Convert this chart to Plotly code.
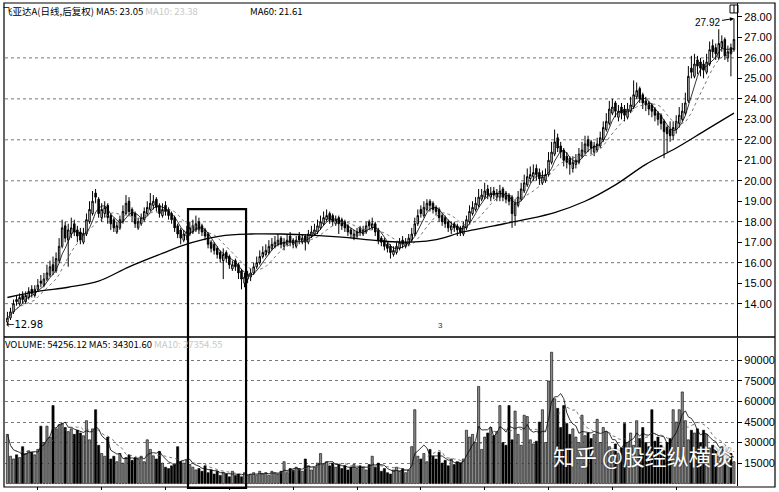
import plotly.graph_objects as go
import pandas as pd

# ---------------- data ----------------
close = [
13.3, 13.6, 14.0, 14.1, 14.3, 14.2, 14.4, 14.6, 14.5, 14.7,
14.9, 15.0, 15.2, 15.5, 15.8, 15.6, 16.2, 16.8, 17.7, 17.2,
17.6, 17.7, 17.5, 17.3, 17.1, 17.4, 18.1, 18.6, 19.0, 19.2,
18.4, 18.6, 18.7, 18.2, 17.9, 17.7, 17.8, 18.1, 18.5, 18.9,
18.5, 18.3, 17.9, 18.0, 18.2, 18.5, 18.7, 18.9, 19.0, 18.7,
18.4, 18.6, 18.5, 18.3, 18.1, 17.7, 17.4, 17.2, 17.4, 17.5,
17.7, 17.8, 17.9, 17.6, 17.5, 17.3, 16.9, 16.7, 16.6, 16.4,
16.2, 16.4, 16.2, 15.9, 15.9, 15.8, 15.5, 15.2, 15.3, 15.4,
15.5, 15.8, 16.0, 16.3, 16.5, 16.6, 16.8, 16.9, 17.0, 17.1,
16.9, 17.0, 17.1, 17.0, 16.9, 17.1, 17.1, 17.2, 17.0, 17.4,
17.5, 17.6, 17.8, 18.0, 18.2, 18.3, 18.1, 18.0, 18.1, 17.9,
17.8, 17.7, 17.5, 17.4, 17.4, 17.5, 17.5, 17.6, 17.8, 17.8,
17.9, 17.5, 17.1, 17.0, 16.8, 16.7, 16.5, 16.6, 16.8, 17.0,
16.9, 17.0, 17.2, 17.4, 17.9, 18.3, 18.4, 18.7, 18.9, 18.8,
18.6, 18.5, 18.2, 18.0, 17.9, 17.7, 17.8, 17.7, 17.6, 17.5,
17.8, 18.1, 18.5, 18.7, 18.9, 19.2, 19.3, 19.5, 19.3, 19.4,
19.3, 19.4, 19.5, 19.2, 19.1, 19.0, 18.4, 18.9, 19.2, 19.6,
19.9, 20.2, 20.3, 20.4, 20.3, 20.1, 20.2, 20.3, 21.0, 21.4,
21.9, 21.6, 21.4, 21.0, 20.9, 20.8, 20.9, 21.0, 21.3, 21.5,
21.8, 21.7, 21.6, 21.7, 21.8, 22.1, 22.6, 22.9, 23.5, 23.6,
23.4, 23.4, 23.3, 23.2, 23.5, 23.7, 24.2, 24.4, 24.0, 23.8,
23.7, 23.5, 23.4, 23.2, 23.0, 22.8, 22.4, 22.3, 22.2, 22.6,
22.9, 23.2, 23.4, 23.8, 25.1, 25.3, 25.7, 25.6, 25.5, 25.4,
25.8, 26.4, 26.3, 26.2, 26.7, 26.8, 26.1, 26.3, 26.2, 26.9]

open_ = [
13.1, 13.3, 13.6, 14.2, 14.0, 14.4, 14.1, 14.3, 14.7, 14.4,
14.7, 15.1, 14.9, 15.2, 15.4, 15.9, 15.6, 16.1, 16.8, 17.8,
17.1, 17.4, 17.9, 17.6, 17.5, 17.0, 17.4, 18.0, 18.4, 19.4,
19.1, 18.2, 18.4, 18.8, 18.3, 18.1, 17.5, 17.7, 18.0, 18.4,
19.0, 18.6, 18.4, 17.7, 17.9, 18.1, 18.4, 18.6, 18.8, 19.1,
18.8, 18.3, 18.8, 18.6, 18.4, 18.2, 17.8, 17.6, 17.1, 17.3,
17.4, 17.5, 17.6, 18.0, 17.8, 17.6, 17.4, 17.0, 16.9, 16.7,
16.5, 16.1, 16.5, 16.3, 15.7, 16.1, 15.9, 15.6, 15.0, 15.2,
15.3, 15.5, 15.8, 16.0, 16.3, 16.4, 16.5, 16.7, 16.8, 16.9,
17.2, 16.8, 16.9, 17.3, 17.1, 16.8, 17.3, 17.0, 17.3, 17.0,
17.3, 17.4, 17.5, 17.7, 17.9, 18.1, 18.4, 18.3, 17.9, 18.2,
18.1, 18.0, 17.8, 17.6, 17.2, 17.3, 17.7, 17.4, 17.5, 18.0,
17.7, 17.9, 17.6, 17.2, 17.1, 16.9, 16.8, 16.4, 16.5, 16.7,
17.1, 16.8, 16.9, 17.1, 17.4, 17.9, 18.6, 18.3, 18.6, 19.0,
18.9, 18.7, 18.6, 18.3, 18.2, 18.0, 17.6, 17.9, 17.8, 17.7,
17.4, 17.7, 18.0, 18.4, 18.6, 18.8, 19.1, 19.2, 19.6, 19.2,
19.5, 19.2, 19.2, 19.6, 19.4, 19.3, 19.2, 18.3, 18.8, 19.1,
19.5, 19.8, 20.1, 20.2, 20.6, 20.4, 19.9, 20.0, 20.3, 20.9,
21.3, 22.1, 21.7, 21.5, 21.2, 21.1, 20.6, 20.8, 20.9, 21.2,
21.4, 22.0, 21.9, 21.4, 21.5, 21.7, 22.0, 22.5, 22.8, 23.3,
23.8, 23.1, 23.6, 23.5, 23.1, 23.4, 23.6, 24.1, 24.5, 24.2,
23.9, 23.8, 23.7, 23.5, 23.3, 23.2, 22.9, 22.6, 22.5, 22.2,
22.5, 22.8, 23.0, 23.3, 23.9, 25.5, 25.1, 25.9, 25.8, 25.7,
25.3, 25.7, 26.6, 26.5, 26.0, 26.5, 26.9, 26.0, 26.5, 26.4]

high = [
13.6, 13.8, 14.2, 14.4, 14.5, 14.6, 14.6, 14.8, 14.9, 14.9,
15.2, 15.4, 15.5, 15.9, 16.1, 16.3, 16.5, 17.2, 18.1, 18.0,
17.9, 18.2, 18.1, 17.8, 17.7, 17.7, 18.4, 19.0, 19.5, 19.6,
19.2, 18.9, 19.0, 18.9, 18.4, 18.2, 18.0, 18.3, 18.8, 19.3,
19.2, 18.7, 18.5, 18.2, 18.4, 18.7, 19.0, 19.4, 19.3, 19.2,
18.9, 18.9, 19.0, 18.7, 18.5, 18.3, 17.9, 17.7, 17.6, 17.8,
18.0, 18.1, 18.3, 18.2, 17.9, 17.7, 17.5, 17.1, 17.0, 16.8,
16.6, 16.7, 16.6, 16.4, 16.1, 16.2, 16.0, 15.7, 15.5, 15.6,
15.7, 16.0, 16.3, 16.6, 16.8, 16.9, 17.1, 17.2, 17.3, 17.4,
17.3, 17.2, 17.4, 17.5, 17.2, 17.3, 17.5, 17.4, 17.4, 17.6,
17.8, 17.9, 18.1, 18.3, 18.5, 18.6, 18.5, 18.4, 18.3, 18.3,
18.2, 18.1, 17.9, 17.7, 17.6, 17.7, 17.8, 17.8, 18.0, 18.1,
18.2, 18.0, 17.7, 17.3, 17.2, 17.0, 16.9, 16.8, 17.0, 17.2,
17.3, 17.2, 17.4, 17.7, 18.2, 18.6, 18.8, 19.0, 19.1, 19.1,
19.0, 18.8, 18.7, 18.4, 18.3, 18.1, 18.0, 18.0, 17.9, 17.8,
18.0, 18.3, 18.8, 19.0, 19.2, 19.6, 19.6, 19.9, 19.8, 19.7,
19.7, 19.6, 19.8, 19.7, 19.5, 19.4, 19.3, 19.1, 19.5, 19.9,
20.3, 20.6, 20.7, 20.8, 20.8, 20.6, 20.5, 20.6, 21.4, 21.9,
22.5, 22.3, 21.9, 21.6, 21.4, 21.2, 21.2, 21.3, 21.6, 21.9,
22.2, 22.2, 22.0, 21.9, 22.1, 22.4, 22.9, 23.3, 23.9, 24.0,
23.9, 23.7, 23.8, 23.7, 23.8, 24.1, 24.9, 24.8, 24.6, 24.3,
24.1, 23.9, 23.8, 23.6, 23.4, 23.3, 23.0, 22.7, 22.9, 22.9,
23.2, 23.6, 23.8, 24.3, 25.6, 26.1, 26.2, 26.1, 26.0, 25.9,
26.2, 26.8, 26.9, 26.7, 27.4, 27.1, 27.0, 26.6, 26.7, 27.92]

low = [
12.98, 13.2, 13.5, 13.9, 13.9, 14.0, 14.0, 14.2, 14.3, 14.3,
14.6, 14.8, 14.8, 15.1, 15.3, 15.4, 15.5, 16.0, 16.7, 17.0,
15.8, 17.2, 17.3, 17.0, 16.9, 16.9, 17.3, 17.9, 18.3, 18.9,
18.2, 18.0, 18.2, 17.9, 17.6, 17.5, 17.4, 17.6, 17.9, 18.3,
18.3, 18.0, 17.7, 17.6, 17.8, 18.0, 18.3, 18.5, 18.6, 18.5,
18.2, 18.2, 18.3, 18.1, 17.9, 17.5, 17.2, 16.9, 17.0, 17.1,
17.3, 17.4, 17.5, 17.4, 17.3, 17.1, 16.7, 16.5, 16.4, 16.2,
16.0, 15.2, 16.0, 15.7, 15.6, 15.6, 15.2, 14.7, 14.8, 15.0,
15.1, 15.4, 15.7, 15.9, 16.2, 16.3, 16.4, 16.6, 16.7, 16.8,
16.7, 16.6, 16.8, 16.8, 16.7, 16.7, 16.9, 16.9, 16.6, 16.9,
17.2, 17.3, 17.4, 17.6, 17.8, 18.0, 17.9, 17.8, 17.8, 17.4,
17.6, 17.5, 17.3, 17.2, 17.1, 17.2, 17.3, 17.3, 17.4, 17.6,
17.6, 17.3, 16.9, 16.8, 16.6, 16.5, 16.2, 16.3, 16.4, 16.6,
16.7, 16.7, 16.8, 17.0, 17.3, 17.8, 18.2, 18.2, 18.5, 18.5,
18.4, 18.3, 18.0, 17.8, 17.7, 17.5, 17.4, 17.5, 17.3, 17.3,
17.3, 17.6, 17.9, 18.3, 18.5, 18.7, 19.0, 19.1, 19.1, 19.0,
19.1, 19.0, 19.0, 19.0, 18.9, 18.8, 17.7, 17.8, 18.7, 19.0,
19.4, 19.7, 19.9, 20.0, 20.0, 19.8, 19.8, 19.9, 20.2, 20.8,
21.2, 21.4, 21.1, 20.7, 20.6, 20.3, 20.4, 20.6, 20.8, 21.1,
21.3, 21.4, 21.3, 21.2, 21.4, 21.6, 21.9, 22.4, 22.7, 23.2,
23.1, 22.9, 23.0, 22.9, 23.0, 23.3, 23.5, 24.0, 23.8, 23.5,
23.4, 23.2, 23.1, 22.9, 22.7, 22.5, 21.1, 21.4, 21.9, 22.0,
22.3, 22.6, 22.9, 23.2, 23.8, 25.0, 25.0, 25.2, 25.1, 25.0,
25.2, 25.6, 26.0, 25.9, 25.9, 26.3, 25.9, 25.8, 25.1, 26.3]

volume_k = [
36, 20, 18, 21, 19, 27, 22, 24, 23, 21,
25, 42, 30, 42, 34, 57, 40, 43, 44, 41,
38, 40, 36, 39, 37, 35, 46, 32, 40, 54,
28, 22, 20, 34, 18, 20, 16, 22, 15, 19,
21, 17, 19, 18, 20, 16, 32, 25, 20, 18,
23.5, 15, 12, 11, 13, 14, 27, 16, 15, 17,
14, 12, 10, 11, 9, 13, 8, 10, 7, 9,
6, 8, 7, 5, 9, 6, 7, 5, 8, 6,
7, 8, 6, 9, 7, 8, 6, 9, 8, 7,
9, 16, 8, 11, 10, 12, 11, 9, 18, 13,
10, 12, 15, 22, 14, 16, 13, 15, 12, 14,
11, 13, 10, 12, 14, 11, 13, 12, 10, 14,
20, 12, 15, 9, 11, 8, 7, 10, 12, 9,
11, 8, 10, 27, 54, 20, 18, 22, 16, 25,
20, 18, 23, 15, 17, 13, 18, 14, 16, 15,
18, 39, 34, 36, 30, 71, 25, 34, 37, 41,
35, 38, 57, 30, 28, 57, 32, 53, 36, 28,
50, 49, 32, 29, 31, 45, 54, 30, 75, 96,
62, 55, 41, 57, 44, 36, 40, 34, 30, 50,
35, 37, 33, 36, 47, 30, 41, 38, 27, 25,
29, 22, 26, 44, 30, 37, 28, 46, 33, 41,
30, 27, 54, 31, 34, 28, 24, 30, 33, 54,
45, 54, 67, 46, 32, 39, 37, 40, 30, 39,
36, 26, 28, 25, 20, 27, 14, 18, 22, 16]

# MA60 at every 10th bar
ma60_idx = [0, 10, 20, 30, 40, 50, 60, 70, 80, 90, 100, 110, 120, 130,
            140, 150, 160, 170, 180, 190, 200, 210, 220, 230, 239]
ma60_val = [14.3, 14.6, 14.8, 15.1, 15.8, 16.4, 16.95, 17.3, 17.4, 17.4,
            17.35, 17.25, 17.1, 17.0, 17.1, 17.5, 17.8, 18.1, 18.45, 19.0,
            19.8, 20.8, 21.6, 22.5, 23.3]

price_ticks = [14, 15, 16, 17, 18, 19, 20, 21, 22, 23, 24, 25, 26, 27, 28]
price_grid = [14, 16, 18, 20, 22, 24, 26]
vol_ticks = [15000, 30000, 45000, 60000, 75000, 90000]

header_price = "飞亚达A(日线,后复权) MA5: 23.05 "
header_price_ma10 = "MA10: 23.38"
header_ma60 = "MA60: 21.61"
header_vol = "VOLUME: 54256.12 MA5: 34301.60 "
header_vol_ma10 = "MA10: 27354.55"
watermark = "知乎 @股经纵横谈"

# ---------------- derived ----------------
n = len(close)
x = list(range(n))
volume = [v * 1000 for v in volume_k]
s_close = pd.Series(close)
ma5 = s_close.rolling(5, min_periods=1).mean()
ma10 = s_close.rolling(10, min_periods=1).mean()
s_vol = pd.Series(volume)
vma5 = s_vol.rolling(5, min_periods=1).mean()
vma10 = s_vol.rolling(10, min_periods=1).mean()
up = [c >= o for c, o in zip(close, open_)]

W, H = 779, 492
ML, MR, MT, MB = 5, 42, 3, 4
PW, PH = W - ML - MR, H - MT - MB


def px(xp):
    return (xp - ML) / PW


def py(yp):
    return (H - MB - yp) / PH


price_dom = [py(338), 1.0]
vol_dom = [0.0, py(339)]

fig = go.Figure()

fig.add_trace(go.Candlestick(
    x=x, open=open_, high=high, low=low, close=close,
    xaxis="x", yaxis="y",
    increasing=dict(line=dict(color="black", width=1), fillcolor="white"),
    decreasing=dict(line=dict(color="black", width=1), fillcolor="black"),
    whiskerwidth=0, hoverinfo="skip", showlegend=False,
))
fig.add_trace(go.Scatter(x=x, y=ma5, mode="lines", xaxis="x", yaxis="y",
                         line=dict(color="black", width=0.8), showlegend=False, hoverinfo="skip"))
fig.add_trace(go.Scatter(x=x, y=ma10, mode="lines", xaxis="x", yaxis="y",
                         line=dict(color="#555", width=0.8, dash="dot"), showlegend=False, hoverinfo="skip"))
fig.add_trace(go.Scatter(x=ma60_idx, y=ma60_val, mode="lines", xaxis="x", yaxis="y",
                         line=dict(color="black", width=1.3, shape="spline"), showlegend=False, hoverinfo="skip"))

fig.add_trace(go.Bar(
    x=x, y=volume, xaxis="x2", yaxis="y2", width=0.72,
    marker=dict(color=["#8a8a8a" if u else "black" for u in up],
                line=dict(color="black", width=0.6)),
    showlegend=False, hoverinfo="skip",
))
fig.add_trace(go.Scatter(x=x, y=vma5, mode="lines", xaxis="x2", yaxis="y2",
                         line=dict(color="black", width=0.8), showlegend=False, hoverinfo="skip"))
fig.add_trace(go.Scatter(x=x, y=vma10, mode="lines", xaxis="x2", yaxis="y2",
                         line=dict(color="#555", width=0.8, dash="dot"), showlegend=False, hoverinfo="skip"))

axis_font = dict(family="Liberation Sans, Arial, sans-serif", size=11, color="black")
xr = [-0.8, n]

fig.update_layout(
    width=W, height=H,
    margin=dict(l=ML, r=MR, t=MT, b=MB),
    paper_bgcolor="white", plot_bgcolor="white",
    xaxis=dict(domain=[0, 1], range=xr, anchor="y", showticklabels=False, showgrid=False,
               zeroline=False, rangeslider=dict(visible=False), ticks=""),
    xaxis2=dict(domain=[0, 1], range=xr, anchor="y2", matches="x", showticklabels=False,
                showgrid=False, zeroline=False, ticks="outside", ticklen=3, tickcolor="black",
                tickvals=[10, 31, 52, 73, 94, 115, 136, 157, 178, 199, 220]),
    yaxis=dict(domain=price_dom, range=[12.39, 28.68], side="right", anchor="x",
               tickvals=price_ticks, ticktext=[f"{v:.2f}" for v in price_ticks],
               ticks="outside", ticklen=4, tickcolor="black", tickfont=axis_font,
               showline=True, linecolor="black", linewidth=1.2, showgrid=False, zeroline=False),
    yaxis2=dict(domain=vol_dom, range=[-1750, 106700], side="right", anchor="x2",
                tickvals=vol_ticks, ticktext=[str(v) for v in vol_ticks],
                ticks="outside", ticklen=4, tickcolor="black", tickfont=axis_font,
                showline=True, linecolor="black", linewidth=1.2,
                showgrid=True, gridcolor="#777", griddash="dot", gridwidth=1, zeroline=False),
)

shapes = []
for g in price_grid:
    shapes.append(dict(type="line", xref="paper", yref="y", x0=0, x1=1, y0=g, y1=g,
                       line=dict(color="#777", width=1, dash="dot"), layer="below"))
# frame & panel separator
shapes.append(dict(type="rect", xref="paper", yref="paper", x0=px(4), x1=px(775), y0=py(489), y1=py(3),
                   line=dict(color="black", width=1.2)))
shapes.append(dict(type="line", xref="paper", yref="paper", x0=px(4), x1=px(775), y0=py(338.5), y1=py(338.5),
                   line=dict(color="black", width=1.5)))
# highlighted box
shapes.append(dict(type="rect", xref="x", yref="paper", x0=59.4, x1=78.5, y0=py(490), y1=py(210),
                   line=dict(color="black", width=2.2)))
# small icon top right
shapes.append(dict(type="rect", xref="paper", yref="paper", x0=px(730), x1=px(738), y0=py(13), y1=py(5),
                   line=dict(color="black", width=1)))
shapes.append(dict(type="line", xref="paper", yref="paper", x0=px(734), x1=px(734), y0=py(13), y1=py(5),
                   line=dict(color="black", width=1)))
fig.update_layout(shapes=shapes)

hdr_font = dict(family="Noto Sans CJK SC, Liberation Sans, sans-serif", size=9.5, color="black")
ann = [
    dict(xref="paper", yref="paper", x=px(1), y=py(11), xanchor="left", yanchor="middle",
         text=header_price + f"<span style='color:#c8c8c8'>{header_price_ma10}</span>",
         showarrow=False, font=hdr_font),
    dict(xref="paper", yref="paper", x=px(248), y=py(11), xanchor="left", yanchor="middle",
         text=header_ma60, showarrow=False, font=hdr_font),
    dict(xref="paper", yref="paper", x=px(3), y=py(345), xanchor="left", yanchor="middle",
         text=header_vol + f"<span style='color:#c8c8c8'>{header_vol_ma10}</span>",
         showarrow=False, font=hdr_font),
    dict(xref="x", yref="y", x=0, y=low[0], xanchor="left", yanchor="middle", xshift=-3,
         text="←" + f"{low[0]:.2f}", showarrow=False,
         font=dict(family="DejaVu Sans, sans-serif", size=10, color="black")),
    dict(xref="x", yref="y", x=n - 1, y=high[-1], text=f"{high[-1]:.2f}", showarrow=True,
         arrowhead=2, arrowsize=0.8, arrowwidth=1, arrowcolor="black", ax=-26, ay=4,
         font=dict(family="Liberation Sans, Arial, sans-serif", size=10, color="black")),
    dict(xref="paper", yref="paper", x=px(440), y=py(333), text="3", showarrow=False,
         font=dict(family="Liberation Sans, Arial, sans-serif", size=8, color="#333")),
    dict(xref="paper", yref="paper", x=px(735), y=py(457), xanchor="right", yanchor="middle",
         text=watermark, showarrow=False,
         font=dict(family="Noto Sans CJK SC", size=22, color="white",
                   shadow="0px 0px 2px #222")),
]
fig.update_layout(annotations=ann)

fig.write_html("out.html", config={"displayModeBar": False},
               post_script="document.body.style.margin='0';")
